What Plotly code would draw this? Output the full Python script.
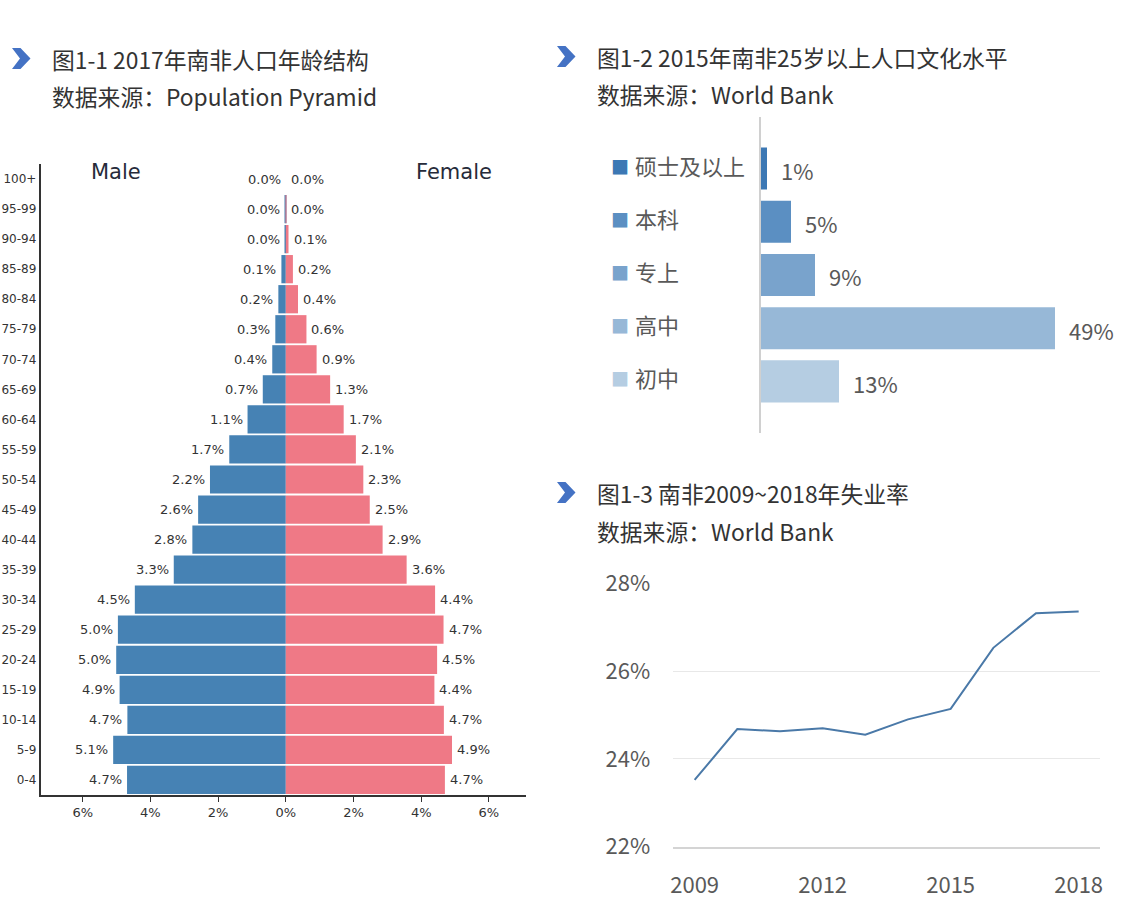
import plotly.graph_objects as go

# ---------------- data ----------------
age_groups = ["0-4", "5-9", "10-14", "15-19", "20-24", "25-29", "30-34", "35-39",
              "40-44", "45-49", "50-54", "55-59", "60-64", "65-69", "70-74", "75-79",
              "80-84", "85-89", "90-94", "95-99", "100+"]
male_pct = [4.69, 5.10, 4.68, 4.91, 5.01, 4.96, 4.46, 3.31, 2.76, 2.59, 2.24,
            1.67, 1.13, 0.68, 0.40, 0.31, 0.22, 0.13, 0.03, 0.01, 0.0]
female_pct = [4.70, 4.91, 4.67, 4.39, 4.47, 4.66, 4.41, 3.57, 2.86, 2.48, 2.29,
              2.07, 1.71, 1.31, 0.91, 0.61, 0.36, 0.21, 0.08, 0.02, 0.0]
pyr_tickvals = [-6, -4, -2, 0, 2, 4, 6]
pyr_ticktext = ["6%", "4%", "2%", "0%", "2%", "4%", "6%"]

edu_levels = ["硕士及以上", "本科", "专上", "高中", "初中"]
edu_pct = [1, 5, 9, 49, 13]
edu_colors = ["#3C78B4", "#5B8FC2", "#79A3CC", "#97B8D7", "#B5CDE2"]

years = [2009, 2010, 2011, 2012, 2013, 2014, 2015, 2016, 2017, 2018]
unemployment = [23.52, 24.68, 24.63, 24.70, 24.55, 24.90, 25.14, 26.53, 27.32, 27.36]
year_ticks = [2009, 2012, 2015, 2018]
unemp_ticks = [22, 24, 26, 28]

titles = [
    ("图1-1 2017年南非人口年龄结构", "数据来源：Population Pyramid", 50, 59, 97),
    ("图1-2 2015年南非25岁以上人口文化水平", "数据来源：World Bank", 595, 57, 95),
    ("图1-3 南非2009~2018年失业率", "数据来源：World Bank", 595, 493, 531),
]

# ---------------- layout helpers ----------------
W, H = 1123, 913
def px(x):
    return x / W
def py(y):
    return 1 - y / H

CJK = "Noto Sans CJK SC"
DJV = "DejaVu Sans"
MALE_C = "#4682B4"
FEMALE_C = "#EF7986"

fig = go.Figure()

# Pyramid
fig.add_trace(go.Bar(y=age_groups, x=[-v for v in male_pct], orientation="h",
                     marker=dict(color=MALE_C, line=dict(width=0)), width=0.94,
                     xaxis="x", yaxis="y", hoverinfo="skip"))
fig.add_trace(go.Bar(y=age_groups, x=female_pct, orientation="h",
                     marker=dict(color=FEMALE_C, line=dict(width=0)), width=0.94,
                     xaxis="x", yaxis="y", hoverinfo="skip"))

# Education bars
fig.add_trace(go.Bar(y=edu_levels, x=edu_pct, orientation="h",
                     marker=dict(color=edu_colors, line=dict(width=0)), width=0.79,
                     xaxis="x2", yaxis="y2", hoverinfo="skip"))

# Unemployment line
fig.add_trace(go.Scatter(x=years, y=unemployment, mode="lines",
                         line=dict(color="#4A79A8", width=2),
                         xaxis="x3", yaxis="y3", hoverinfo="skip"))

annotations = []
# pyramid value labels
for a, m, f in zip(age_groups, male_pct, female_pct):
    annotations.append(dict(x=-m, y=a, xref="x", yref="y", text=f"{m:.1f}%",
                            xanchor="right", yanchor="middle", xshift=-3, showarrow=False,
                            font=dict(family=DJV, size=13, color="#333333")))
    annotations.append(dict(x=f, y=a, xref="x", yref="y", text=f"{f:.1f}%",
                            xanchor="left", yanchor="middle", xshift=3, showarrow=False,
                            font=dict(family=DJV, size=13, color="#333333")))
annotations.append(dict(x=px(116), y=py(172), xref="paper", yref="paper", text="Male",
                        xanchor="center", yanchor="middle", showarrow=False,
                        font=dict(family=DJV, size=21, color="#262B3A")))
annotations.append(dict(x=px(454), y=py(172), xref="paper", yref="paper", text="Female",
                        xanchor="center", yanchor="middle", showarrow=False,
                        font=dict(family=DJV, size=21, color="#262B3A")))

# education labels
for lvl, v, c in zip(edu_levels, edu_pct, edu_colors):
    annotations.append(dict(x=v, y=lvl, xref="x2", yref="y2", text=f"{v}%",
                            xanchor="left", yanchor="middle", xshift=12, yshift=-1.5,
                            showarrow=False, font=dict(family=CJK, size=22, color="#595959")))
    annotations.append(dict(x=px(609), y=lvl, xref="paper", yref="y2", text="■",
                            xanchor="left", yanchor="middle", yshift=3,
                            showarrow=False, font=dict(family=CJK, size=18, color=c)))
    annotations.append(dict(x=px(633), y=lvl, xref="paper", yref="y2", text=lvl,
                            xanchor="left", yanchor="middle", yshift=4,
                            showarrow=False, font=dict(family=CJK, size=22, color="#595959")))

# titles
shapes = []
for t, s, x0, yt, ys in titles:
    annotations.append(dict(x=px(x0), y=py(yt), xref="paper", yref="paper", text=t,
                            xanchor="left", yanchor="middle", showarrow=False,
                            font=dict(family=CJK, size=22.8, color="#333333")))
    annotations.append(dict(x=px(x0), y=py(ys), xref="paper", yref="paper", text=s,
                            xanchor="left", yanchor="middle", showarrow=False,
                            font=dict(family=CJK, size=22.8, color="#333333")))
    ix = x0 - 38
    iy = yt - 11
    pts = [(ix, iy), (ix + 8.5, iy), (ix + 18.5, iy + 10.5), (ix + 8.5, iy + 21),
           (ix, iy + 21), (ix + 8, iy + 10.5)]
    path = "M " + " L ".join(f"{px(a):.5f},{py(b):.5f}" for a, b in pts) + " Z"
    shapes.append(dict(type="path", path=path, xref="paper", yref="paper",
                       fillcolor="#4472C4", line=dict(width=0)))

# pyramid geometry
zero_px = 285.8
unit = 33.85
xl, xr = 40.5, 525.5

fig.update_layout(
    template="none",
    width=W, height=H, margin=dict(l=0, r=0, t=0, b=0, pad=0, autoexpand=False),
    paper_bgcolor="white", plot_bgcolor="white", showlegend=False,
    barmode="overlay",
    xaxis=dict(domain=[px(xl), px(xr)], range=[(xl - zero_px) / unit, (xr - zero_px) / unit],
               tickvals=pyr_tickvals, ticktext=pyr_ticktext, ticks="outside", ticklen=5,
               tickcolor="#333333", showline=True, linecolor="#333333", linewidth=1.5,
               showgrid=False, zeroline=False, anchor="y", automargin=False,
               tickfont=dict(family=DJV, size=13, color="#333333")),
    yaxis=dict(domain=[py(795), py(164)], type="category", categoryorder="array",
               categoryarray=age_groups, range=[-0.5, 20.5], showline=True,
               linecolor="#333333", linewidth=1.5, ticks="", showgrid=False, zeroline=False,
               anchor="x", ticklabelstandoff=0, automargin=False,
               tickfont=dict(family=DJV, size=12, color="#333333")),
    xaxis2=dict(domain=[px(761), px(1100)], range=[0, 339 / 6], visible=False, anchor="y2",
                automargin=False),
    yaxis2=dict(domain=[py(433), py(116.7)], type="category", categoryorder="array",
                categoryarray=edu_levels, range=[4.97, -0.974], showline=True,
                linecolor="#D0D0D0", linewidth=2, ticks="", showticklabels=False,
                showgrid=False, zeroline=False, anchor="x2", automargin=False),
    xaxis3=dict(domain=[px(673.3), px(1100)], range=[2008.5, 2018.5], tickvals=year_ticks,
                ticktext=[str(y) for y in year_ticks],
                showline=True, linecolor="#D4D4D4", linewidth=2, ticks="", showgrid=False,
                zeroline=False, anchor="y3", ticklabelstandoff=18, automargin=False,
                tickfont=dict(family=CJK, size=22, color="#595959")),
    yaxis3=dict(domain=[py(846.7), py(583.3)], range=[22, 28], tickvals=unemp_ticks,
                ticktext=[f"{v}%" for v in unemp_ticks],
                showgrid=True, gridcolor="#E8E8E8", gridwidth=1,
                showline=False, zeroline=False, ticks="", anchor="x3", ticklabelstandoff=22,
                automargin=False,
                tickfont=dict(family=CJK, size=22, color="#595959")),
    annotations=annotations,
    shapes=shapes,
)

fig.write_html("out.html", config={"displayModeBar": False},
               post_script="document.body.style.margin='0px';document.body.style.overflow='hidden';")
